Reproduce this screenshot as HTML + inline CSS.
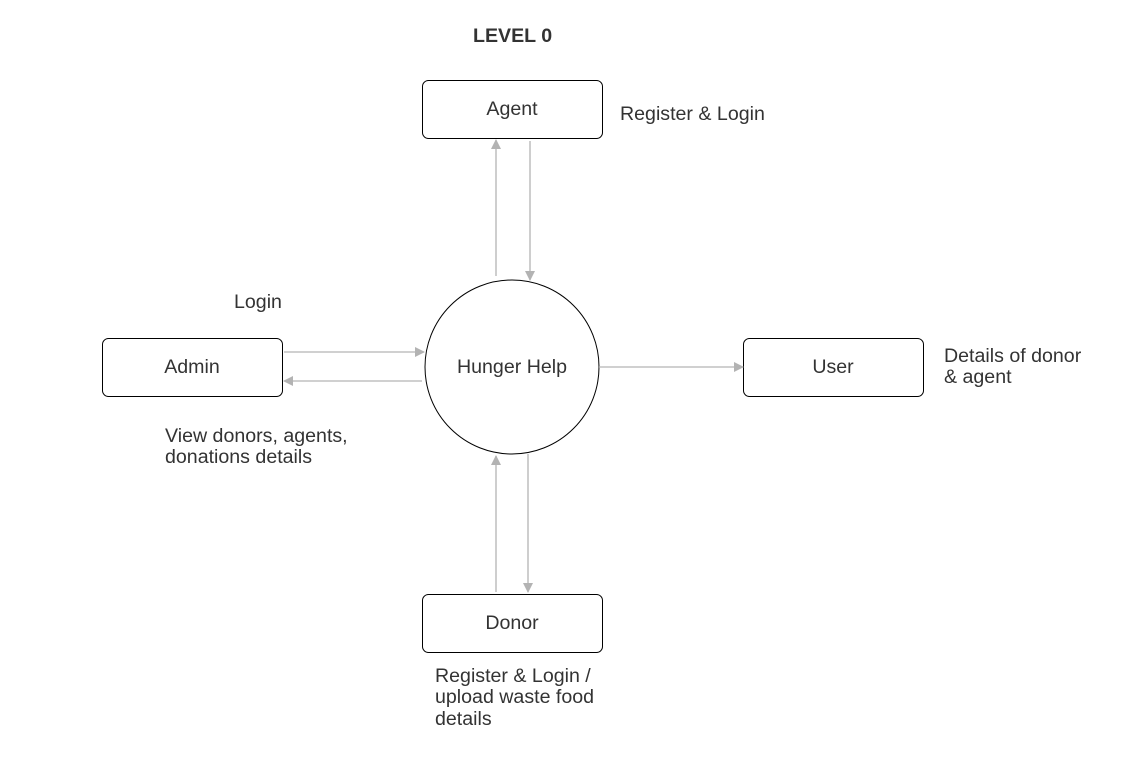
<!DOCTYPE html>
<html><head><meta charset="utf-8"><style>
html,body{margin:0;padding:0;background:#fff;}
body{width:1128px;height:757px;overflow:hidden;}
svg text{font-family:"Liberation Sans",Arial,sans-serif;font-size:19.6px;fill:#333;}
</style></head><body>
<svg width="1128" height="757" viewBox="0 0 1128 757" xmlns="http://www.w3.org/2000/svg">
<defs>
<marker id="a" markerWidth="10" markerHeight="10" refX="9" refY="5" orient="auto" markerUnits="userSpaceOnUse">
<path d="M0,0 L10,5 L0,10 z" fill="#b3b3b3"/></marker>
</defs>
<text x="473" y="42" style="font-weight:bold">LEVEL 0</text>
<g fill="#fff" stroke="#000" stroke-width="1">
<rect x="422.5" y="80.5" width="180" height="58" rx="6"/>
<rect x="102.5" y="338.5" width="180" height="58" rx="6"/>
<rect x="743.5" y="338.5" width="180" height="58" rx="6"/>
<rect x="422.5" y="594.5" width="180" height="58" rx="6"/>
<circle cx="512" cy="367" r="87"/>
</g>
<g stroke="#b3b3b3" stroke-width="1.3" fill="none">
<line x1="496" y1="276" x2="496" y2="140" marker-end="url(#a)"/>
<line x1="530" y1="141" x2="530" y2="280" marker-end="url(#a)"/>
<line x1="284" y1="352" x2="424" y2="352" marker-end="url(#a)"/>
<line x1="422" y1="381" x2="284" y2="381" marker-end="url(#a)"/>
<line x1="599" y1="367" x2="743" y2="367" marker-end="url(#a)"/>
<line x1="496" y1="592" x2="496" y2="456" marker-end="url(#a)"/>
<line x1="528" y1="454" x2="528" y2="592" marker-end="url(#a)"/>
</g>
<g text-anchor="middle">
<text x="512" y="115">Agent</text>
<text x="192" y="373">Admin</text>
<text x="833" y="373">User</text>
<text x="512" y="629">Donor</text>
<text x="512" y="373">Hunger Help</text>
</g>
<text x="620" y="120">Register &amp; Login</text>
<text x="234" y="308">Login</text>
<text x="165" y="442">View donors, agents,</text>
<text x="165" y="463">donations details</text>
<text x="944" y="362">Details of donor</text>
<text x="944" y="383">&amp; agent</text>
<text x="435" y="682">Register &amp; Login /</text>
<text x="435" y="703">upload waste food</text>
<text x="435" y="725">details</text>
</svg>
</body></html>
